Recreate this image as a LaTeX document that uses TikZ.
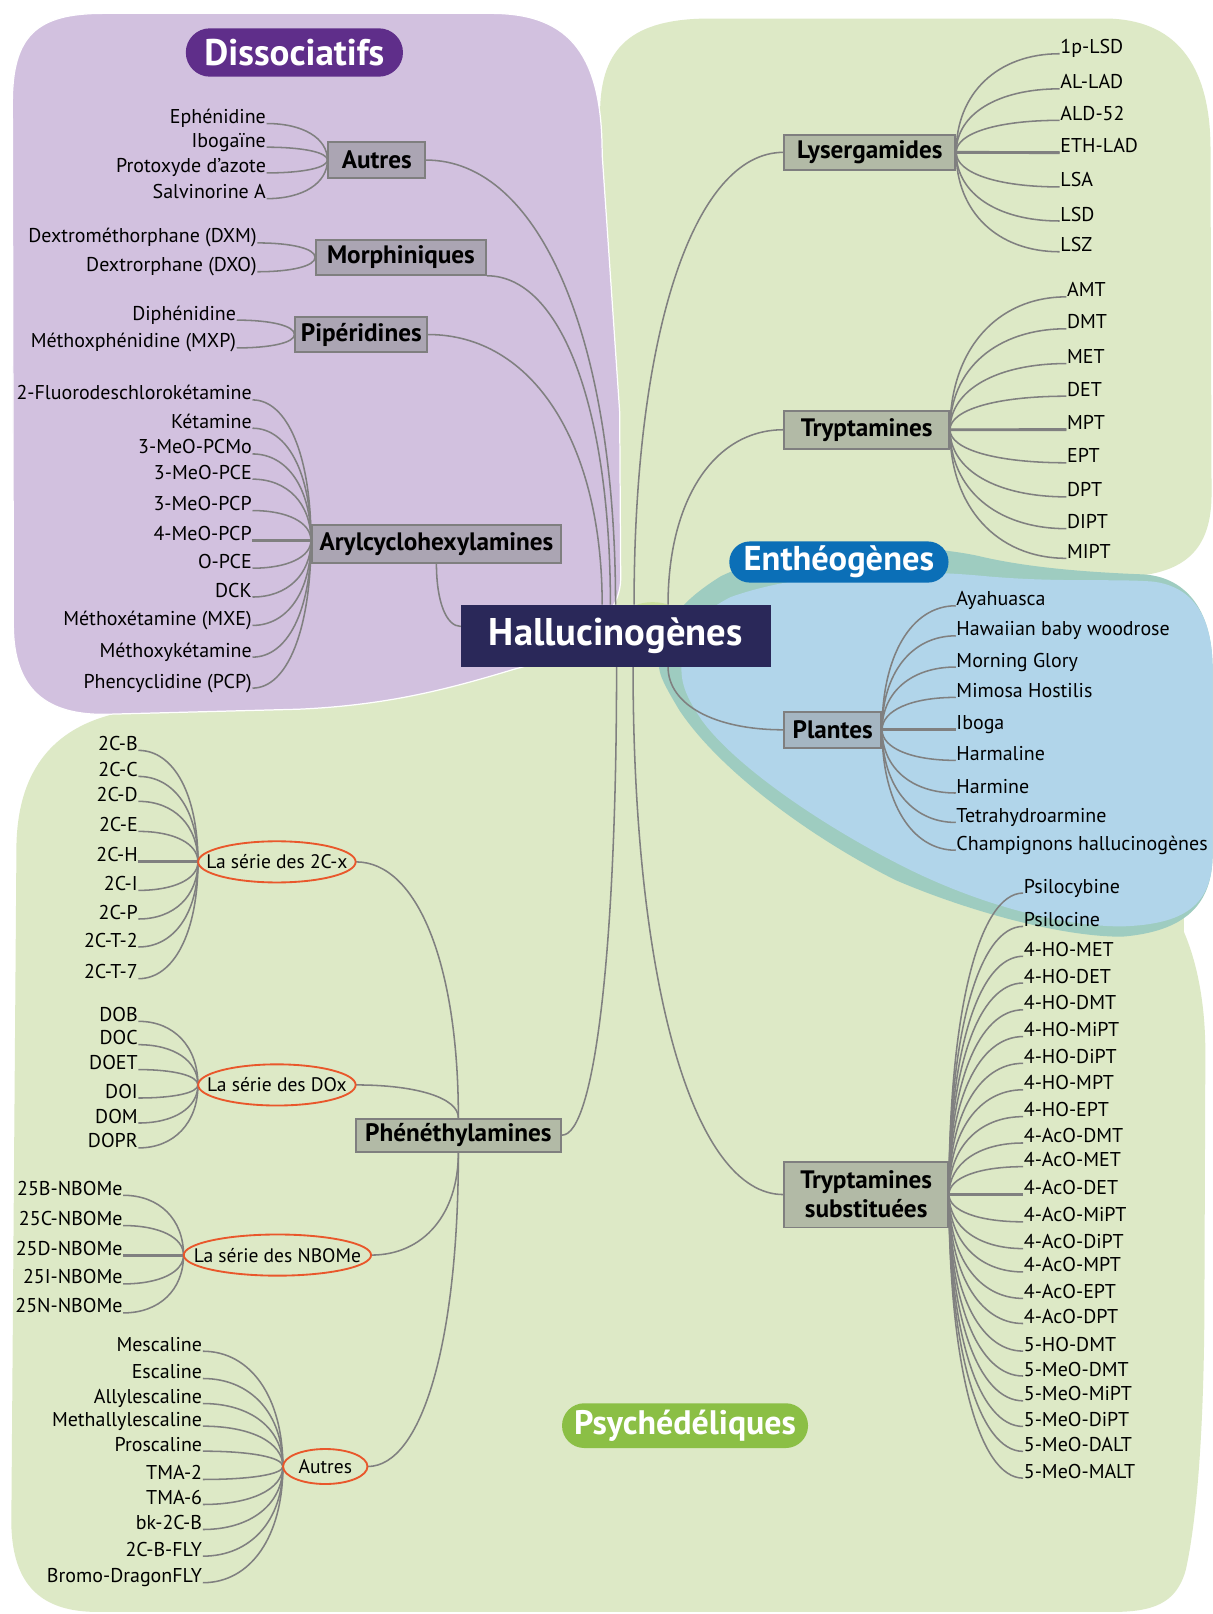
\documentclass[tikz,border=0pt]{standalone}
\usepackage{fontspec}
\setmainfont{PT Sans}
\usetikzlibrary{calc,shapes.geometric}
\definecolor{purplebg}{HTML}{D2C1DF}
\definecolor{greenbg}{HTML}{DDE9C6}
\definecolor{bluebg}{HTML}{B1D5EA}
\definecolor{tealc}{HTML}{9ECCC0}
\definecolor{blobc}{HTML}{CCE09E}
\definecolor{linec}{HTML}{808080}
\definecolor{boxP}{HTML}{ABA5B3}
\definecolor{boxG}{HTML}{B2BAA6}
\definecolor{boxB}{HTML}{A5B6C2}
\definecolor{boxborder}{HTML}{7F7F7F}
\definecolor{ellc}{HTML}{E9572B}
\definecolor{navy}{HTML}{2A2859}
\definecolor{pillP}{HTML}{5F2E8A}
\definecolor{pillB}{HTML}{0B6FB7}
\definecolor{pillG}{HTML}{8BBF45}
\newcommand{\leaffont}{\fontsize{19.4}{22}\selectfont}
\newcommand{\boxfont}{\fontsize{24.5}{28}\selectfont\bfseries}
\newcommand{\ellfont}{\fontsize{19}{21}\selectfont}
\newcommand{\hcfont}{\fontsize{37.5}{40}\selectfont\bfseries}
\pgfdeclarelayer{bg}
\pgfdeclarelayer{lines}
\pgfsetlayers{bg,lines,main}
\newcommand{\mmconn}[2]{\begin{pgfonlayer}{lines}\draw[conn] let \p1=(#1), \p2=(#2) in (\p1) .. controls (\x1,{\y1+0.6*(\y2-\y1)}) and ({\x1+0.4*(\x2-\x1)},\y2) .. (\p2);\end{pgfonlayer}}
\newcommand{\mmthick}[2]{\begin{pgfonlayer}{lines}\draw[conn,line width=2.8pt] (#1) -- (#2);\end{pgfonlayer}}
\tikzset{
  leafL/.style={anchor=base east, inner sep=0.5pt, font=\leaffont},
  leafR/.style={anchor=base west, inner sep=0.5pt, font=\leaffont},
  cat/.style={draw=boxborder, line width=1.8pt, font=\boxfont, inner sep=0pt, align=center},
  conn/.style={draw=linec, line width=1.5pt},
  elltext/.style={inner sep=0pt, font=\ellfont},
  ellline/.style={draw=ellc, line width=1.8pt},
  pill/.style={text=white, inner sep=0pt},
}
\begin{document}
\begin{tikzpicture}[x=1pt,y=-1pt]
\begin{pgfonlayer}{bg}
\fill[white] (0,0) rectangle (1178,1568);
% green region
\fill[greenbg] (583,110) .. controls (583,45) and (615,18) .. (690,18) -- (1075,18) .. controls (1140,19) and (1176,60) .. (1176,145) -- (1177,480) .. controls (1177,535) and (1150,556) .. (1100,560) -- (1150,580) -- (1150,905) .. controls (1163,935) and (1171,975) .. (1171,1023) -- (1170,1283) .. controls (1169,1400) and (1162,1480) .. (1152,1525) .. controls (1143,1558) and (1120,1566) .. (1080,1566) -- (95,1566) .. controls (40,1566) and (12,1540) .. (11,1480) -- (16,820) .. controls (18,740) and (60,700) .. (130,690) -- (583,620) -- cycle;
% purple region
\fill[purplebg, draw=white, line width=1.2pt] (12,100) .. controls (12,35) and (35,13) .. (100,13) -- (480,13) .. controls (555,14) and (585,55) .. (585,150) -- (602,400) -- (603,560) .. controls (604,600) and (560,635) .. (500,650) .. controls (440,668) and (380,685) .. (290,689) -- (100,694) .. controls (40,694) and (14,665) .. (13,610) -- cycle;
% teal band
\fill[tealc] (640,645) .. controls (640,610) and (660,585) .. (700,560) .. controls (760,530) and (880,525) .. (950,540) .. controls (1000,552) and (1060,556) .. (1110,558) .. controls (1150,560) and (1178,590) .. (1178,650) -- (1178,830) .. controls (1178,880) and (1150,905) .. (1090,910) .. controls (1030,910) and (940,885) .. (870,855) .. controls (790,815) and (700,750) .. (660,690) .. controls (645,665) and (640,655) .. (640,645) -- cycle;
% blue region
\fill[bluebg] (662,650) .. controls (662,615) and (680,595) .. (710,580) .. controls (780,555) and (880,552) .. (960,560) .. controls (1030,566) and (1080,562) .. (1120,565) .. controls (1160,570) and (1178,600) .. (1178,650) -- (1178,830) .. controls (1178,880) and (1150,898) .. (1090,900) .. controls (1030,900) and (950,878) .. (880,843) .. controls (800,803) and (715,745) .. (682,700) .. controls (670,682) and (662,668) .. (662,650) -- cycle;
\fill[blobc] (634,594) ellipse [x radius=22pt, y radius=9pt];
\end{pgfonlayer}
\useasboundingbox (0,0) rectangle (1178,1568);

% titles
\node[pill, fill=pillP, minimum width=211, minimum height=47, rounded corners=23.5pt, font=\fontsize{36}{38}\selectfont\bfseries] (dis) at (286,51) {Dissociatifs};
\node[pill, fill=pillB, minimum width=213, minimum height=40, rounded corners=20pt, font=\fontsize{33.5}{36}\selectfont\bfseries] (ent) at (815,546) {Enthéogènes};
\node[pill, fill=pillG, minimum width=239, minimum height=43.5, rounded corners=21.7pt, font=\fontsize{33}{36}\selectfont\bfseries] (psy) at (665.5,1385) {Psychédéliques};

% center
\node[fill=navy, text=white, font=\hcfont, minimum width=301, minimum height=60.3, inner sep=0pt] (hc) at (598.3,617.7) {Hallucinogènes};
\coordinate (t1) at (585,587.5);
\coordinate (t2) at (593,587.5);
\coordinate (t3) at (598,587.5);
\coordinate (t4) at (616,587.5);
\coordinate (t5) at (649,587.5);
\coordinate (b1) at (599,647.8);
\coordinate (b2) at (615,647.8);
\coordinate (b3) at (649,647.8);
\coordinate (hcL) at (447.7,608.6);

% category boxes
\node[cat, fill=boxP, minimum width=94, minimum height=35] (autres) at (366,155.5) {Autres};
\node[cat, fill=boxP, minimum width=165, minimum height=34] (morph) at (389.5,250) {Morphiniques};
\node[cat, fill=boxP, minimum width=128, minimum height=34] (pip) at (351,325) {Pipéridines};
\node[cat, fill=boxP, minimum width=242, minimum height=37] (aryl) at (424,528.5) {Arylcyclohexylamines};
\node[cat, fill=boxG, minimum width=166, minimum height=34] (lys) at (845,148) {Lysergamides};
\node[cat, fill=boxG, minimum width=160, minimum height=37] (tryp) at (842,417.5) {Tryptamines};
\node[cat, fill=boxB, minimum width=94, minimum height=35] (plan) at (809,709) {Plantes};
\node[cat, fill=boxG, minimum width=159, minimum height=64] (tsub) at (841.5,1160.5) {Tryptamines\\substituées};
\node[cat, fill=boxG, minimum width=199.5, minimum height=32] (phen) at (445.3,1102.8) {Phénéthylamines};
\coordinate (arylL) at ($(aryl.west)+(0,-3.5)$);

% ellipses
\node[elltext, minimum width=153, minimum height=40] (e2c) at (269,837.3) {La série des 2C-x};
\draw[ellline] (e2c.center) ellipse [x radius=76.5pt, y radius=20pt];
\node[elltext, minimum width=153, minimum height=40] (edo) at (269,1054) {La série des DOx};
\draw[ellline] (edo.center) ellipse [x radius=76.5pt, y radius=20pt];
\node[elltext, minimum width=182, minimum height=40] (enb) at (269.5,1219.3) {La série des NBOMe};
\draw[ellline] (enb.center) ellipse [x radius=91pt, y radius=20pt];
\node[elltext, minimum width=82, minimum height=34] (eau) at (316,1424.7) {Autres};
\draw[ellline] (eau.center) ellipse [x radius=41pt, y radius=17pt];

% trunk connectors
\mmconn{t1}{pip.east}
\mmconn{t2}{morph.south east}
\mmconn{t3}{autres.east}
\mmconn{aryl.south}{hcL}
\mmconn{t4}{lys.west}
\mmconn{t5}{tryp.west}
\mmconn{b3}{plan.west}
\mmconn{b2}{tsub.west}
\mmconn{b1}{phen.east}
\mmconn{phen.north}{e2c.east}
\mmconn{phen.north}{edo.east}
\mmconn{phen.south}{enb.east}
\mmconn{phen.south}{eau.east}

% leaves: Autres
\foreach \lbl/\yy [count=\k] in {Ephénidine/120,Ibogaïne/143,Protoxyde d’azote/168,Salvinorine A/193}{
  \node[leafL] (au\k) at (259,\yy) {\lbl};
  \mmconn{autres.west}{au\k.base east}}
% Morphiniques
\foreach \lbl/\yy [count=\k] in {Dextrométhorphane (DXM)/236,Dextrorphane (DXO)/264}{
  \node[leafL] (mo\k) at (250,\yy) {\lbl};
  \mmconn{morph.west}{mo\k.base east}}
% Piperidines
\foreach \lbl/\yy [count=\k] in {Diphénidine/311,Méthoxphénidine (MXP)/338}{
  \node[leafL] (pi\k) at (230,\yy) {\lbl};
  \mmconn{pip.west}{pi\k.base east}}
% Arylcyclohexylamines
\foreach \lbl/\yy [count=\k] in {2-Fluorodeschlorokétamine/388.5,Kétamine/416,3-MeO-PCMo/441,3-MeO-PCE/465.5,3-MeO-PCP/496,4-MeO-PCP/525,O-PCE/552,DCK/580,Méthoxétamine (MXE)/607.6,Méthoxykétamine/638.4,Phencyclidine (PCP)/668.5}{
  \node[leafL] (ar\k) at (245.3,\yy) {\lbl};
  \mmconn{arylL}{ar\k.base east}}
\mmthick{arylL}{ar6.base east}
% Lysergamides
\foreach \lbl/\yy [count=\k] in {1p-LSD/52.2,AL-LAD/86.3,ALD-52/116.9,ETH-LAD/148.3,LSA/181.6,LSD/214.7,LSZ/244.6}{
  \node[leafR] (ly\k) at (1029.5,\yy) {\lbl};
  \mmconn{lys.east}{ly\k.base west}}
\mmthick{lys.east}{ly4.base west}
% Tryptamines
\foreach \lbl/\yy [count=\k] in {AMT/288.4,DMT/319.4,MET/353.2,DET/384.9,MPT/417.4,EPT/449.6,DPT/482.7,DIPT/513.6,MIPT/542.4}{
  \node[leafR] (tr\k) at (1036,\yy) {\lbl};
  \mmconn{tryp.east}{tr\k.base west}}
\mmthick{tryp.east}{tr5.base west}
% Plantes
\foreach \lbl/\yy [count=\k] in {Ayahuasca/588.5,Hawaiian baby woodrose/617.7,Morning Glory/648,Mimosa Hostilis/677.5,Iboga/709,Harmaline/738.7,Harmine/770.4,Tetrahydroarmine/799,Champignons hallucinogènes/826}{
  \node[leafR] (pl\k) at (928.5,\yy) {\lbl};
  \mmconn{plan.east}{pl\k.base west}}
\mmthick{plan.east}{pl5.base west}
% Tryptamines substituees
\foreach \lbl/\yy [count=\k] in {Psilocybine/867.6,Psilocine/900,4-HO-MET/929,4-HO-DET/955,4-HO-DMT/981,4-HO-MiPT/1007,4-HO-DiPT/1033,4-HO-MPT/1058.7,4-HO-EPT/1084.8,4-AcO-DMT/1110.4,4-AcO-MET/1133.4,4-AcO-DET/1160.5,4-AcO-MiPT/1187,4-AcO-DiPT/1213,4-AcO-MPT/1235.7,4-AcO-EPT/1261.4,4-AcO-DPT/1285.8,5-HO-DMT/1312.6,5-MeO-DMT/1336.8,5-MeO-MiPT/1360.9,5-MeO-DiPT/1385.8,5-MeO-DALT/1410,5-MeO-MALT/1436}{
  \node[leafR] (ts\k) at (994,\yy) {\lbl};
  \mmconn{tsub.east}{ts\k.base west}}
\mmthick{tsub.east}{ts12.base west}
% 2C-x
\foreach \lbl/\yy [count=\k] in {2C-B/729,2C-C/754.3,2C-D/778.5,2C-E/807.7,2C-H/837.3,2C-I/865,2C-P/892.8,2C-T-2/920,2C-T-7/950.8}{
  \node[leafL] (tc\k) at (134.5,\yy) {\lbl};
  \mmconn{e2c.west}{tc\k.base east}}
\mmthick{e2c.west}{tc5.base east}
% DOx
\foreach \lbl/\yy [count=\k] in {DOB/992.2,DOC/1014.9,DOET/1039.1,DOI/1066.7,DOM/1091,DOPR/1115.2}{
  \node[leafL] (do\k) at (134.5,\yy) {\lbl};
  \mmconn{edo.west}{do\k.base east}}
% NBOMe
\foreach \lbl/\yy [count=\k] in {25B-NBOMe/1161.2,25C-NBOMe/1190.6,25D-NBOMe/1219.3,25I-NBOMe/1247.3,25N-NBOMe/1275.5}{
  \node[leafL] (nb\k) at (119.7,\yy) {\lbl};
  \mmconn{enb.west}{nb\k.base east}}
\mmthick{enb.west}{nb3.base east}
% Autres (phenethylamines)
\foreach \lbl/\yy [count=\k] in {Mescaline/1312.7,Escaline/1339.2,Allylescaline/1363.5,Methallylescaline/1385.5,Proscaline/1409.8,TMA-2/1437.3,TMA-6/1461.6,bk-2C-B/1485.9,2C-B-FLY/1511.8,Bromo-DragonFLY/1537.6}{
  \node[leafL] (ea\k) at (197,\yy) {\lbl};
  \mmconn{eau.west}{ea\k.base east}}
\end{tikzpicture}
\end{document}
